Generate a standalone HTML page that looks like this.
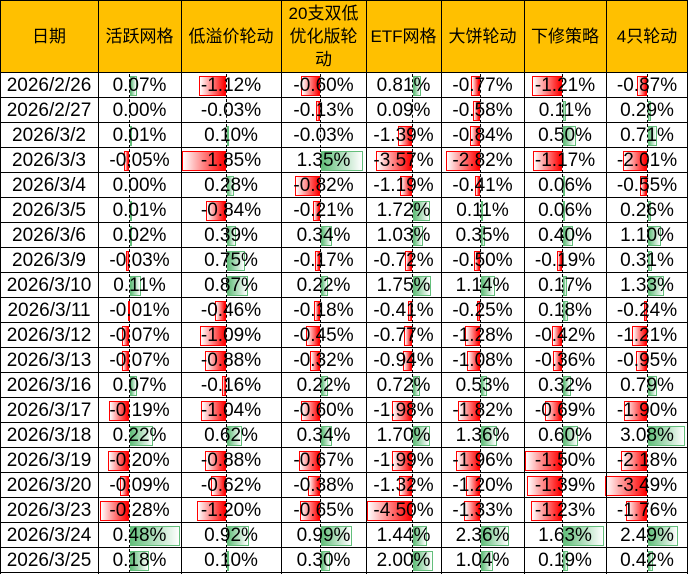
<!DOCTYPE html>
<html><head><meta charset="utf-8">
<style>
body{margin:0;width:688px;height:574px;overflow:hidden;background:#fff;font-family:"Liberation Sans","Noto Sans CJK SC",sans-serif;}
#w{position:relative;width:688px;height:574px;}
.c{position:absolute;box-sizing:border-box;display:flex;align-items:center;justify-content:center;font-size:19px;color:#000;white-space:nowrap;}
.h{background:#FFC000;font-size:17px;text-align:center;line-height:23px;white-space:normal;}
.vl{position:absolute;top:0;width:1px;height:574px;background:#000;}
.hl{position:absolute;left:0;width:688px;height:1px;background:#000;}
.bar{position:absolute;box-sizing:border-box;}
.neg{border:1px solid #f00;background:linear-gradient(to right,#fff,#f00);}
.pos{border:1px solid #63BE7B;background:linear-gradient(to right,#63BE7B,#fff);}
.ax{position:absolute;width:0;border-left:1px dashed #000;}
.t{position:relative;z-index:2;}
</style></head><body><div id="w"></div>
<script>
var W=document.getElementById('w');
var xs=[0,98,181,281,366,441,524,606,688];
var heads=['日期','活跃网格','低溢价轮动','20支双低<br>优化版轮<br>动','ETF网格','大饼轮动','下修策略','4只轮动'];
var axis=[0,129,226,320,412,480,562,647];
var sc=[0,104,24,31,10,12,25,12];
var D=[
['2026/2/26',0.07,-1.12,-0.60,0.81,-0.77,-1.21,-0.87],
['2026/2/27',0.00,-0.03,-0.13,0.09,-0.58,0.11,0.29],
['2026/3/2',0.01,0.10,-0.03,-1.39,-0.84,0.50,0.71],
['2026/3/3',-0.05,-1.85,1.35,-3.57,-2.82,-1.17,-2.01],
['2026/3/4',0.00,0.28,-0.82,-1.19,-0.41,0.06,-0.55],
['2026/3/5',0.01,-0.84,-0.21,1.72,0.11,0.06,0.26],
['2026/3/6',0.02,0.39,0.34,1.03,0.35,0.40,1.10],
['2026/3/9',-0.03,0.75,-0.17,-0.72,-0.50,-0.19,0.31],
['2026/3/10',0.11,0.87,0.22,1.75,1.14,0.17,1.33],
['2026/3/11',-0.01,-0.46,-0.18,-0.41,-0.25,0.18,-0.24],
['2026/3/12',-0.07,-1.09,-0.45,-0.77,-1.28,-0.42,-1.21],
['2026/3/13',-0.07,-0.88,-0.32,-0.94,-1.08,-0.36,-0.95],
['2026/3/16',0.07,-0.16,0.22,0.72,0.53,0.32,0.79],
['2026/3/17',-0.19,-1.04,-0.60,-1.98,-1.82,-0.69,-1.90],
['2026/3/18',0.22,0.62,0.34,1.70,1.36,0.60,3.08],
['2026/3/19',-0.20,-0.88,-0.67,-1.99,-1.96,-1.50,-2.18],
['2026/3/20',-0.09,-0.62,-0.38,-1.32,-1.20,-1.39,-3.49],
['2026/3/23',-0.28,-1.20,-0.65,-4.50,-1.33,-1.23,-1.76],
['2026/3/24',0.48,0.92,0.99,1.44,2.36,1.63,2.49],
['2026/3/25',0.18,0.10,0.30,2.00,1.04,0.19,0.42]];
var h='';
for(var i=0;i<8;i++){h+='<div class="c h" style="left:'+xs[i]+'px;top:0;width:'+(xs[i+1]-xs[i])+'px;height:73px">'+heads[i]+'</div>';}
var RH=25,Y0=73;
for(var r=0;r<D.length;r++){
 var y=Y0+r*RH;
 h+='<div class="c" style="left:0;top:'+y+'px;width:98px;height:'+RH+'px">'+D[r][0]+'</div>';
 for(var j=1;j<8;j++){
  var v=D[r][j],a=axis[j],len=Math.abs(v)*sc[j];
  h+='<div class="ax" style="left:'+a+'px;top:'+(y+1)+'px;height:'+(RH-1)+'px"></div>';
  if(len>=1){
   if(v<0)h+='<div class="bar neg" style="left:'+(a-len)+'px;top:'+(y+3)+'px;width:'+len+'px;height:'+(RH-5)+'px"></div>';
   else h+='<div class="bar pos" style="left:'+(a+1)+'px;top:'+(y+3)+'px;width:'+len+'px;height:'+(RH-5)+'px"></div>';
  }
  h+='<div class="c" style="left:'+xs[j]+'px;top:'+y+'px;width:'+(xs[j+1]-xs[j])+'px;height:'+RH+'px"><span class="t">'+v.toFixed(2)+'%</span></div>';
 }
}
for(var i=1;i<8;i++)h+='<div class="vl" style="left:'+xs[i]+'px"></div>';
h+='<div class="vl" style="left:687px"></div><div class="vl" style="left:0"></div>';
h+='<div class="hl" style="top:0"></div>';
for(var r=0;r<=D.length;r++)h+='<div class="hl" style="top:'+(Y0+r*RH-1)+'px"></div>';
W.innerHTML=h;
</script>
</body></html>
